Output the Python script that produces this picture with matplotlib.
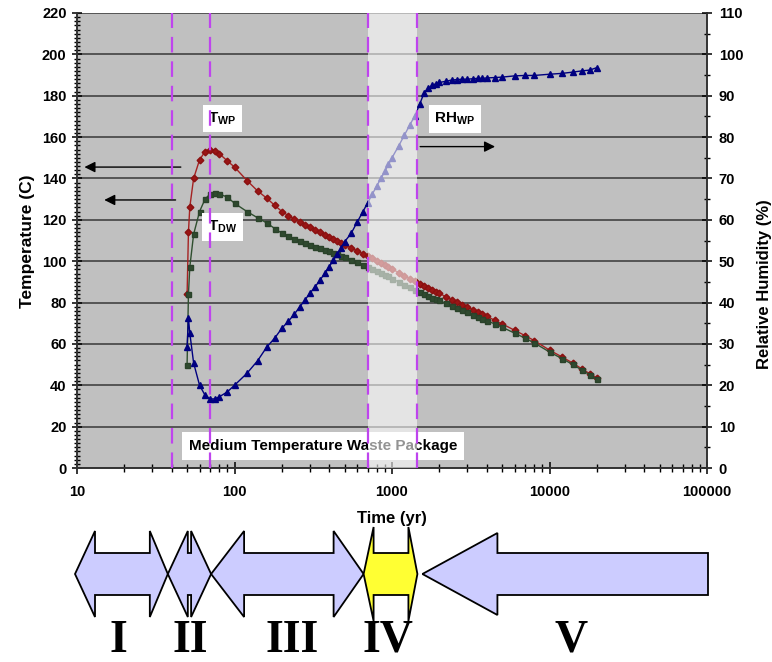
import numpy as np
import matplotlib
matplotlib.use('Agg')
import matplotlib.pyplot as plt
from matplotlib.patches import Polygon
from matplotlib.ticker import MultipleLocator, LogLocator, NullFormatter, FixedLocator, FixedFormatter

# DATA -------------------------------------------------------------------------
time_yr = [50, 51, 52, 55, 60, 65, 70, 75, 80, 90,
           100, 120, 140, 160, 180, 200, 220, 240, 260, 280, 300,
           325, 350, 375, 400, 425, 450, 475, 500,
           550, 600, 650, 700, 750, 800, 850, 900, 950, 1000,
           1100, 1200, 1300, 1400, 1500, 1600, 1700, 1800, 1900, 2000,
           2200, 2400, 2600, 2800, 3000,
           3250, 3500, 3750, 4000,
           4500, 5000,
           6000, 7000, 8000,
           10000, 12000, 14000, 16000, 18000, 20000]

t_wp = [84, 114, 126, 140, 149, 153, 154, 153.5, 152, 148.5,
        145.5, 139, 134, 130.5, 127, 124, 122, 120.3, 119.0, 117.7, 116.6,
        115.2, 114.0, 112.8, 111.8, 110.8, 109.8, 108.9, 108.0,
        106.5, 105.0, 103.7, 102.5, 101.3, 100.2, 99.2, 98.2, 97.3, 96.2,
        94.5, 93.0, 91.5, 90.2, 89.0, 87.9, 86.9, 86.0, 85.1, 84.4,
        82.8, 81.4, 80.1, 78.9, 77.9,
        76.6, 75.4, 74.3, 73.3,
        71.4, 69.7,
        66.6, 64.0, 61.6,
        57.0, 53.7, 50.8, 48.0, 45.6, 43.6]

t_dw = [50, 84, 97, 113, 124, 130, 132.5, 133, 132.5, 131,
        128, 124, 121, 118.5, 115.8, 113.5, 112, 110.8, 109.7, 108.7, 107.8,
        107.0, 106.2, 105.4, 104.8, 104.1, 103.3, 102.7, 102.0,
        100.7, 99.4, 98.3, 97.3, 96.2, 95.2, 94.3, 93.4, 92.6, 91.6,
        90.0, 88.6, 87.3, 86.1, 85.0, 84.0, 83.1, 82.3, 81.6, 81.0,
        79.6, 78.4, 77.3, 76.2, 75.4,
        74.2, 73.2, 72.2, 71.3,
        69.6, 68.1,
        65.2, 62.8, 60.5,
        56.1, 52.9, 50.1, 47.4, 45.1, 43.1]

rh_wp = [29.3, 36.2, 32.7, 25.4, 20.0, 17.6, 16.7, 16.7, 17.2, 18.4,
         20.0, 22.9, 25.9, 29.2, 31.4, 33.8, 35.5, 37.2, 39.0, 40.6, 42.2,
         43.8, 45.5, 47.1, 48.7, 50.3, 51.7, 53.1, 54.7,
         56.7, 59.4, 61.8, 64.1, 66.2, 68.2, 70.0, 71.7, 73.4, 75.0,
         77.8, 80.5, 83.0, 85.2, 88.0, 90.7, 91.8, 92.5, 92.9, 93.2,
         93.5, 93.8, 93.9, 94.0, 94.0,
         94.1, 94.2, 94.2, 94.3,
         94.4, 94.5,
         94.8, 94.9, 94.9,
         95.2, 95.4, 95.7, 96.0, 96.2, 96.8]

phase_edges = [10, 40, 70, 700, 1450, 100000]
phase_names = ['I', 'II', 'III', 'IV', 'V']
x_ticks = [10, 100, 1000, 10000, 100000]
x_ticklabels = ['10', '100', '1000', '10000', '100000']
# ------------------------------------------------------------------------------

plt.rcParams['font.family'] = ['Liberation Sans', 'DejaVu Sans']
plt.rcParams['font.weight'] = 'bold'

W, H = 772, 662
fig = plt.figure(figsize=(W / 100, H / 100), dpi=100)
ax = fig.add_axes([77 / W, 1 - 468 / H, 630 / W, 455 / H])
ax2 = ax.twinx()

ax.set_facecolor('#c0c0c0')
ax.set_xscale('log')
ax.set_xlim(10, 100000)
ax.set_ylim(0, 220)
ax2.set_ylim(0, 110)

ax.yaxis.set_major_locator(MultipleLocator(20))
ax.yaxis.set_minor_locator(MultipleLocator(2))
ax2.yaxis.set_major_locator(MultipleLocator(10))
ax2.yaxis.set_minor_locator(MultipleLocator(5))
ax.xaxis.set_major_locator(FixedLocator(x_ticks))
ax.xaxis.set_major_formatter(FixedFormatter(x_ticklabels))
ax.xaxis.set_minor_locator(LogLocator(base=10, subs=range(2, 10)))
ax.xaxis.set_minor_formatter(NullFormatter())

ax.grid(axis='y', which='major', color='#383838', lw=1.1)
ax.set_axisbelow(True)

for a in (ax, ax2):
    a.spines['top'].set_visible(False)
    for s in ('left', 'right', 'bottom'):
        a.spines[s].set_color('#333333')
        a.spines[s].set_linewidth(1.2)

ax.tick_params(axis='y', which='major', direction='inout', length=7, width=1.1, labelsize=10.5, pad=4)
ax.tick_params(axis='y', which='minor', direction='inout', length=4, width=1)
ax.tick_params(axis='x', which='major', direction='inout', length=8, width=1.1, labelsize=10.5, pad=8)
ax.tick_params(axis='x', which='minor', direction='inout', length=6, width=1)
ax2.tick_params(axis='y', which='major', direction='inout', length=7, width=1.1, labelsize=10.5, pad=5)
ax2.tick_params(axis='y', which='minor', direction='inout', length=5, width=1)

# series
ax.plot(time_yr, t_wp, color='#a52222', lw=1, marker='D', ms=3.4, mec='#8a1010', mfc='#9a1515', zorder=3)
ax.plot(time_yr, t_dw, color='#2f4f2f', lw=1, marker='s', ms=3.6, mec='#2a422a', mfc='#2f4a2f', zorder=4)
ax2.plot(time_yr, rh_wp, color='#000080', lw=1, marker='^', ms=4.5, mec='#000080', mfc='#000080', zorder=3)

# labels on the chart
box = dict(facecolor='white', edgecolor='none', pad=4)
ax.text(84, 169, 'T$_{\\mathregular{WP}}$', fontsize=11, ha='center', va='center', bbox=box, zorder=5)
ax.text(84, 116.5, 'T$_{\\mathregular{DW}}$', fontsize=11, ha='center', va='center', bbox=box, zorder=5)
ax2.text(2512, 84.4, 'RH$_{\\mathregular{WP}}$', fontsize=11, ha='center', va='center', bbox=box, zorder=5)
ax2.text(365, 5.3, 'Medium Temperature Waste Package', fontsize=11, ha='center', va='center',
         bbox=dict(facecolor='white', edgecolor='none', pad=5), zorder=5)

arr = dict(arrowstyle='-|>', color='black', lw=1, mutation_scale=16)
ax.annotate('', xy=(10.7, 145.5), xytext=(47.5, 145.5), arrowprops=arr, zorder=6)
ax.annotate('', xy=(14.3, 129.6), xytext=(44, 129.6), arrowprops=arr, zorder=6)
ax2.annotate('', xy=(4700, 77.7), xytext=(1450, 77.7), arrowprops=arr, zorder=6)

# light band over the transition period, on top of everything
ax2.axvspan(phase_edges[3], phase_edges[4], color='white', alpha=0.58, lw=0, zorder=7)
for xv in phase_edges[1:5]:
    ax2.axvline(xv, color='#bf44ee', lw=1.6, dashes=(7, 4), zorder=8)

fig.text(28 / W, 1 - 241 / H, 'Temperature (C)', rotation=90, ha='center', va='center', fontsize=12.5)
fig.text(765 / W, 1 - 284 / H, 'Relative Humidity (%)', rotation=90, ha='center', va='center', fontsize=12)
fig.text(392 / W, 1 - 518 / H, 'Time (yr)', ha='center', va='center', fontsize=12)

# phase arrows below the chart, placed at the phase boundaries
over = fig.add_axes([0, 0, 1, 1], zorder=10)
over.set_xlim(0, W)
over.set_ylim(H, 0)
over.axis('off')
over.patch.set_visible(False)

fig.canvas.draw()
px = [ax.transData.transform((t, 1))[0] for t in phase_edges]


def arrow_pts(x0, x1, hl0, hl1, yc, hh, sh):
    pts = []
    if hl0 > 0:
        pts += [(x0, yc), (x0 + hl0, yc - hh), (x0 + hl0, yc - sh)]
    else:
        pts += [(x0, yc + sh), (x0, yc - sh)]
    if hl1 > 0:
        pts += [(x1 - hl1, yc - sh), (x1 - hl1, yc - hh), (x1, yc), (x1 - hl1, yc + hh), (x1 - hl1, yc + sh)]
    else:
        pts += [(x1, yc - sh), (x1, yc + sh)]
    if hl0 > 0:
        pts += [(x0 + hl0, yc + sh), (x0 + hl0, yc + hh)]
    return pts


yc = 574
shapes = [
    (px[0] - 2, px[1] - 4, 20, 18, 43, 21, '#ccccff'),
    (px[1] - 4, px[2] + 1, 20, 20, 43, 21, '#ccccff'),
    (px[2] + 1, px[3] - 4, 33, 30, 43, 21, '#ccccff'),
    (px[3] - 4, px[4], 10, 9, 47, 21, '#ffff33'),
    (px[4] + 5, px[5] + 1, 75, 0, 41, 21, '#ccccff'),
]
for (x0, x1, hl0, hl1, hh, sh, fc) in shapes:
    over.add_patch(Polygon(arrow_pts(x0, x1, hl0, hl1, yc, hh, sh), closed=True,
                           facecolor=fc, edgecolor='black', lw=1.3, joinstyle='miter'))

label_x = [118, 190, 292, 388, 571]
for name, lx in zip(phase_names, label_x):
    over.text(lx, 641, name, ha='center', va='center', fontsize=33, fontweight='bold',
              family=['Liberation Serif', 'DejaVu Serif'])

fig.savefig('out.png', dpi=100)
